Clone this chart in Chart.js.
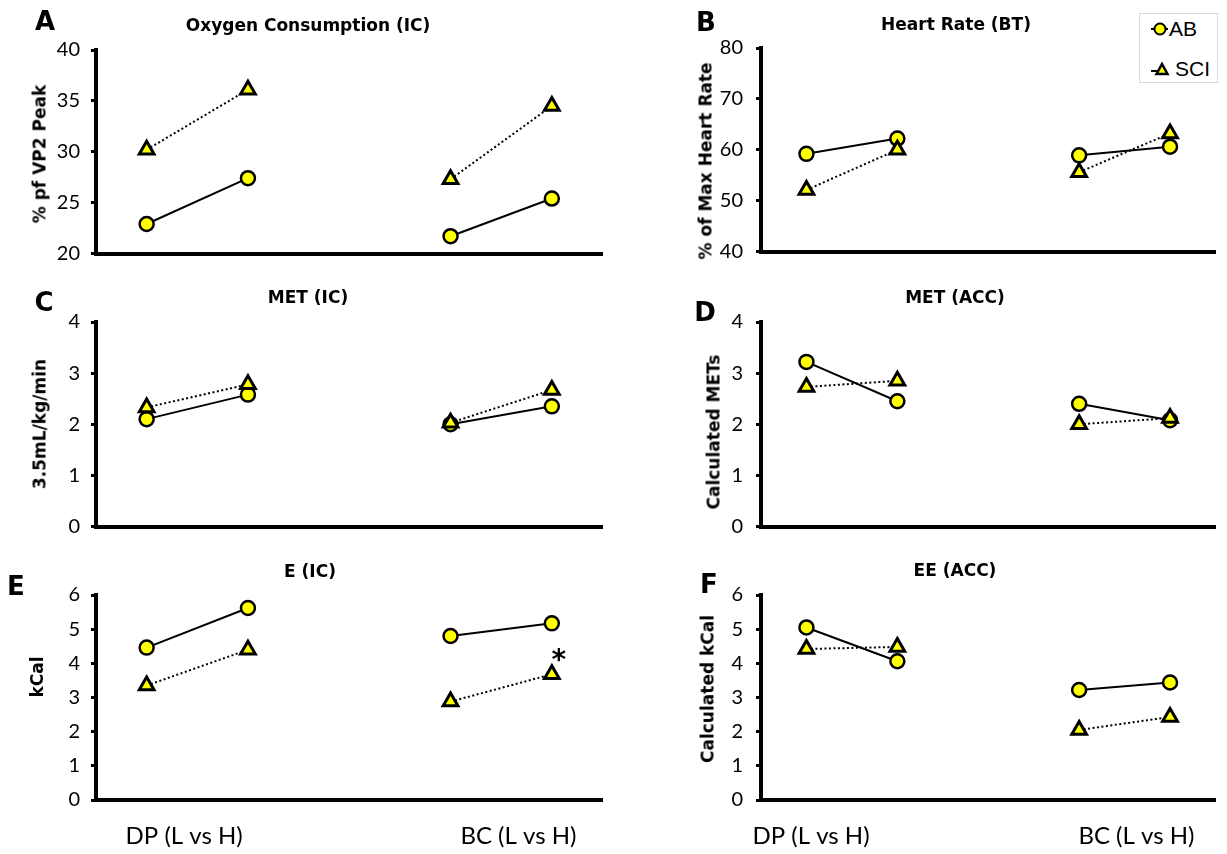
<!DOCTYPE html>
<html lang="en">
<head>
<meta charset="UTF-8" />
<title>Energy expenditure: AB vs SCI</title>
<script src="https://cdn.jsdelivr.net/npm/chart.js"></script>
<style>
  body {
    margin: 0;
    width: 1227px;
    height: 854px;
    position: relative;
    overflow: hidden;
    background: #fff;
    color: #000;
    font-family: "DejaVu Sans", sans-serif;
  }
  canvas { position: absolute; }
  .letter, .title, .ytitle {
    position: absolute;
    white-space: nowrap;
    font-weight: bold;
    line-height: 1;
  }
  .letter { font-size: 26px; transform: translate(-50%, -50%); }
  .title { font-size: 17px; transform: translate(-50%, -50%); }
  .ytitle { font-size: 17px; transform: translate(-50%, -50%) rotate(-90deg); }
  .legend {
    position: absolute;
    left: 1139px;
    top: 13px;
    width: 79px;
    height: 70px;
    border: 1px solid #d9d9d9;
    box-sizing: border-box;
    font-family: "Liberation Sans", Arial, sans-serif;
    font-size: 21px;
  }
  .legend .item { position: absolute; left: 9px; display: flex; align-items: center; }
  .legend svg { display: block; }
</style>
</head>
<body>
<div class="legend">
  <div class="item" style="top:3px">
    <svg width="20" height="22"><line x1="2" y1="11" x2="19" y2="11" stroke="#000" stroke-width="2"/><circle cx="11" cy="11" r="5.5" fill="#ffff00" stroke="#000" stroke-width="2"/></svg>
    <span>AB</span>
  </div>
  <div class="item" style="top:43px">
    <svg width="26" height="22"><line x1="2" y1="13" x2="10" y2="13" stroke="#000" stroke-width="2"/><polygon points="13,6 18.5,16 7.5,16" fill="#ffff00" stroke="#000" stroke-width="2.5" stroke-linejoin="miter"/></svg>
    <span>SCI</span>
  </div>
</div>

<script>
  // x order: DP low, DP high, BC low, BC high
  const groupLabels = ["DP (L vs H)", "BC (L vs H)"];
  const seriesNames = ["AB", "SCI"];

  const oxygenAB = [22.9, 27.4, 21.7, 25.4];
  const oxygenSCI = [30.2, 36.1, 27.3, 34.5];

  const heartAB = [59.2, 62.2, 58.9, 60.6];
  const heartSCI = [52.1, 60.0, 55.6, 63.2];

  const metIcAB = [2.1, 2.58, 2.0, 2.35];
  const metIcSCI = [2.33, 2.78, 2.03, 2.67];

  const metAccAB = [3.22, 2.45, 2.4, 2.08];
  const metAccSCI = [2.73, 2.85, 2.0, 2.12];

  const eIcAB = [4.46, 5.62, 4.8, 5.17];
  const eIcSCI = [3.35, 4.4, 2.88, 3.68];

  const eeAccAB = [5.05, 4.06, 3.22, 3.44];
  const eeAccSCI = [4.42, 4.48, 2.05, 2.43];

  // significance marks: panel, series index, point index
  const sigMarks = [{ panel: "E", series: 1, index: 3, text: "*" }];

  const xPos = [0.5, 1.5, 3.5, 4.5];

  const columns = [
    { left: 0, width: 614, plotLeft: 96, plotRight: 606, tickPad: 11 },
    { left: 614, width: 613, plotLeft: 761, plotRight: 1225, tickPad: 13 },
  ];

  const panels = [
    { id: "A", col: 0, top: 50, bottom: 255, title: "Oxygen Consumption (IC)", yTitle: "% pf VP2 Peak",
      ab: oxygenAB, sci: oxygenSCI, min: 20, max: 40, step: 5,
      letterAt: [45, 21], titleAt: [308, 25], yTitleAt: [40, 154] },
    { id: "B", col: 1, top: 48, bottom: 253, title: "Heart Rate (BT)", yTitle: "% of Max Heart Rate",
      ab: heartAB, sci: heartSCI, min: 40, max: 80, step: 10,
      letterAt: [706, 22], titleAt: [956, 24], yTitleAt: [706, 161] },
    { id: "C", col: 0, top: 322, bottom: 528, title: "MET (IC)", yTitle: "3.5mL/kg/min",
      ab: metIcAB, sci: metIcSCI, min: 0, max: 4, step: 1,
      letterAt: [44, 302], titleAt: [308, 297], yTitleAt: [40, 424] },
    { id: "D", col: 1, top: 322, bottom: 528, title: "MET (ACC)", yTitle: "Calculated METs",
      ab: metAccAB, sci: metAccSCI, min: 0, max: 4, step: 1,
      letterAt: [705, 312], titleAt: [955, 297], yTitleAt: [714, 432] },
    { id: "E", col: 0, top: 595, bottom: 800, title: "E (IC)", yTitle: "kCal",
      ab: eIcAB, sci: eIcSCI, min: 0, max: 6, step: 1, catAt: [0.87, 4.17],
      letterAt: [16, 586], titleAt: [310, 571], yTitleAt: [37, 677] },
    { id: "F", col: 1, top: 595, bottom: 800, title: "EE (ACC)", yTitle: "Calculated kCal",
      ab: eeAccAB, sci: eeAccSCI, min: 0, max: 6, step: 1, catAt: [0.55, 4.13],
      letterAt: [709, 584], titleAt: [955, 570], yTitleAt: [708, 689] },
  ];

  function addText(cls, text, at) {
    const el = document.createElement("div");
    el.className = cls;
    el.textContent = text;
    el.style.left = at[0] + "px";
    el.style.top = at[1] + "px";
    document.body.appendChild(el);
  }

  const toPoints = (vals) => vals.map((v, i) => ({ x: xPos[i], y: v }));
  // no line between DP high and BC low
  const gapColor = (ctx) => (ctx.p0DataIndex === 1 ? "rgba(0,0,0,0)" : "#000");

  const sigPlugin = {
    id: "sig",
    afterDatasetsDraw(chart) {
      const id = chart.options.plugins.sig.panel;
      const ctx = chart.ctx;
      sigMarks.filter((m) => m.panel === id).forEach((m) => {
        const pt = chart.getDatasetMeta(m.series).data[m.index];
        ctx.save();
        ctx.fillStyle = "#000";
        ctx.font = "bold 28px 'DejaVu Sans'";
        ctx.textAlign = "center";
        ctx.textBaseline = "middle";
        ctx.fillText(m.text, pt.x + 7, pt.y - 13);
        ctx.restore();
      });
    },
  };

  panels.forEach((p) => {
    const col = columns[p.col];
    const padTop = 16;
    const xH = p.catAt ? 54 : 10;
    const canvas = document.createElement("canvas");
    canvas.width = col.width;
    canvas.height = padTop + (p.bottom - p.top) + xH;
    canvas.style.left = col.left + "px";
    canvas.style.top = p.top - padTop + "px";
    document.body.appendChild(canvas);

    addText("letter", p.id, p.letterAt);
    addText("title", p.title, p.titleAt);
    addText("ytitle", p.yTitle, p.yTitleAt);

    new Chart(canvas, {
      type: "line",
      data: {
        datasets: [
          {
            label: seriesNames[0],
            data: toPoints(p.ab),
            borderColor: "#000",
            borderWidth: 2,
            segment: { borderColor: gapColor },
            pointStyle: "circle",
            pointRadius: 7,
            pointBorderWidth: 2.5,
            pointBackgroundColor: "#ffff00",
            pointBorderColor: "#000",
            order: 2,
          },
          {
            label: seriesNames[1],
            data: toPoints(p.sci),
            borderColor: "#000",
            borderWidth: 2,
            borderDash: [2, 2.5],
            segment: { borderColor: gapColor },
            pointStyle: "triangle",
            pointRadius: 8.5,
            pointBorderWidth: 3,
            pointBackgroundColor: "#ffff00",
            pointBorderColor: "#000",
            order: 1,
          },
        ],
      },
      options: {
        responsive: false,
        animation: false,
        events: [],
        layout: {
          padding: { left: 0, right: col.left + col.width - col.plotRight, top: padTop, bottom: 0 },
        },
        plugins: {
          legend: { display: false },
          tooltip: { enabled: false },
          sig: { panel: p.id },
        },
        scales: {
          x: {
            type: "linear",
            min: 0,
            max: 5,
            grid: { display: false, drawTicks: false },
            border: { display: true, width: 4, color: "#000" },
            ticks: {
              display: !!p.catAt,
              autoSkip: false,
              maxRotation: 0,
              padding: 22,
              color: "#000",
              font: { family: "Lato", size: 24 },
              callback: (v, i) => groupLabels[i],
            },
            afterBuildTicks: (s) => {
              if (p.catAt) s.ticks = p.catAt.map((v) => ({ value: v }));
            },
            afterFit: (s) => {
              s.height = xH;
              s.paddingLeft = 0;
              s.paddingRight = 0;
            },
          },
          y: {
            min: p.min,
            max: p.max,
            ticks: {
              stepSize: p.step,
              padding: col.tickPad,
              color: "#000",
              font: { family: "Lato", size: 20 },
            },
            grid: { drawOnChartArea: false, drawTicks: true, tickLength: 5, lineWidth: 3, color: "#000" },
            border: { display: true, width: 4, color: "#000" },
            afterFit: (s) => {
              s.width = col.plotLeft - col.left;
              s.paddingTop = 0;
              s.paddingBottom = 0;
            },
          },
        },
      },
      plugins: [sigPlugin],
    });
  });
</script>
</body>
</html>
